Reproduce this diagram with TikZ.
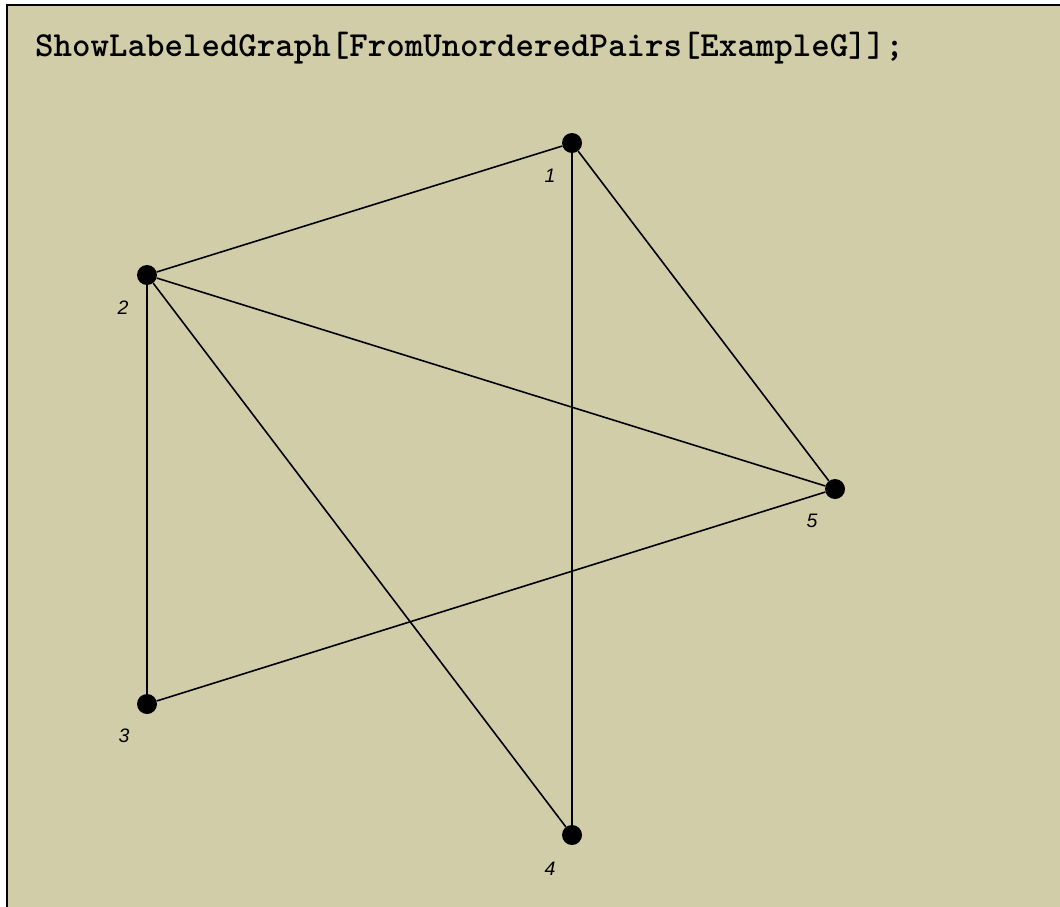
\documentclass[tikz,border=0pt]{standalone}
\usepackage{fontspec}
\setmainfont{Liberation Sans}
\definecolor{bg}{RGB}{209,205,169}
\begin{document}
\begin{tikzpicture}[x=1pt,y=-1pt,
  vertex/.style={circle,fill=black,inner sep=0pt,minimum size=20pt},
  lab/.style={font=\fontsize{19.5}{20}\selectfont\itshape,inner sep=0pt},
  edge/.style={line width=1.6pt}]
\useasboundingbox (0,0) rectangle (1060,907);
\fill[white] (0,0) rectangle (1060,907);
\fill[bg] (7,5) rectangle (1060,907);
\draw[line width=1.5pt] (7,907) -- (7,5) -- (1060,5);
\node[anchor=base west,inner sep=0pt,font=\ttfamily\bfseries\fontsize{35.2}{38}\selectfont] (title) at (35,57) {ShowLabeledGraph[FromUnorderedPairs[ExampleG]];};
\node[vertex] (v1) at (572,143) {};
\node[vertex] (v2) at (147,275) {};
\node[vertex] (v3) at (147,704) {};
\node[vertex] (v4) at (572,835) {};
\node[vertex] (v5) at (835,489) {};
\node[lab] (l1) at (550,176) {1};
\node[lab] (l2) at (123,308) {2};
\node[lab] (l3) at (124,736) {3};
\node[lab] (l4) at (550,869) {4};
\node[lab] (l5) at (812,521) {5};
\draw[edge] (v1) -- (v2);
\draw[edge] (v1) -- (v4);
\draw[edge] (v1) -- (v5);
\draw[edge] (v2) -- (v3);
\draw[edge] (v2) -- (v4);
\draw[edge] (v2) -- (v5);
\draw[edge] (v3) -- (v5);
\end{tikzpicture}
\end{document}
